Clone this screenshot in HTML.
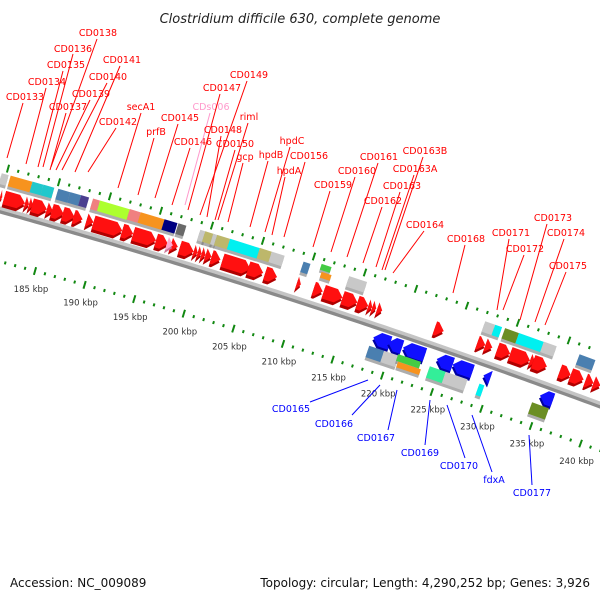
<!DOCTYPE html>
<html><head><meta charset="utf-8">
<style>
html,body{margin:0;padding:0;background:#fff;}
svg{display:block;font-family:"DejaVu Sans","Liberation Sans",sans-serif;}
</style></head>
<body>
<svg id="chart" width="600" height="600" viewBox="0 0 600 600" xmlns="http://www.w3.org/2000/svg">
<rect width="600" height="600" fill="#fff"/>
<text x="300" y="23" text-anchor="middle" font-size="13" font-style="italic" fill="#222">Clostridium difficile 630, complete genome</text>
<g id="rulers"></g>
<g id="backbone"></g>
<g id="features"></g>
<g id="labels" font-size="9.5" text-anchor="middle"></g>
<text x="10" y="587" font-size="12" fill="#111">Accession: NC_009089</text>
<text x="590" y="587" font-size="12" fill="#111" text-anchor="end">Topology: circular; Length: 4,290,252 bp; Genes: 3,926</text>
</svg>
<script>
// ---- data (kbp) ----
var fwdArrowStart=[181.9,182.3,184.4,184.8,185.1,186.6,187.1,188.2,189.3,190.6,191.3,194.2,195.3,197.6,199.1,200.0,201.4,201.8,202.2,202.6,203.2,204.3,206.9,208.6,211.8,213.5,214.5,216.4,217.9,219.0,219.4,219.9,225.7,230.0,230.8,232.0,233.3,235.3,235.6,238.3,239.4,240.9,241.7];
var fwdArrowEnd=[182.1,184.4,184.8,185.2,186.6,187.2,188.3,189.4,190.2,191.3,194.2,195.3,197.6,198.8,199.8,201.4,201.8,202.2,202.6,203.2,204.1,207.1,208.4,209.8,212.2,214.4,216.4,217.9,219.0,219.4,219.8,220.4,226.6,230.8,231.5,233.3,235.3,235.8,237.0,239.4,240.7,241.7,242.4];
var pinkArrow=[198.7,199.3];
var fwdBoxStart=[181.9,182.8,185.0,186.1,187.6,188.8,189.9,191.1,191.8,194.8,195.9,198.3,199.7,201.9,202.4,203.2,203.6,204.9,207.9,209.1,212.3,216.9,230.6,231.6,232.6,234.0,236.5,240.1];
var fwdBoxEnd=[182.6,185.0,186.1,187.2,188.8,189.9,190.7,191.8,194.8,195.9,198.3,199.6,200.5,202.6,203.4,203.7,204.9,207.9,209.1,210.4,213.0,218.7,231.6,232.3,234.0,236.5,237.8,241.7];
var fwdBoxColor=["#c8c8c8","#f7931e","#20c8cc","#20c8cc","#4a7fb0","#4a7fb0","#4b3f8f","#f08080","#adff2f","#f08080","#f7931e","#000080","#696969","#c8c8c8","#bdb76b","#c8c8c8","#bdb76b","#00f0f0","#bdb76b","#c8c8c8","#4a7fb0","#c8c8c8","#c8c8c8","#00f0f0","#6b8e23","#00f0f0","#c8c8c8","#4a7fb0"];
var stackedBoxes=[214.2,215.2];
var revArrowStart=[219.5,221.0,222.5,225.9,227.5,230.6,236.3];
var revArrowEnd=[221.2,222.4,224.7,227.5,229.5,231.3,237.6];
var revBoxStart=[218.9,220.4,221.9,225.0,226.6,230.0,235.3];
var revBoxEnd=[220.4,221.9,224.2,226.6,228.8,230.5,237.0];
var revBoxColor=["#4a7fb0","#c8c8c8","stack","#33ee99","#c8c8c8","#00f0f0","#6b8e23"];
var rulerStart=182, rulerEnd=242;
var kbpLabels=[185,190,195,200,205,210,215,220,225,230,235,240];

// ---- geometry ----
function B(x){return 209.5+0.28*x+7.5e-5*x*x;}
function ang(x){return Math.atan(0.28+1.5e-4*x)*180/Math.PI;}
function X(k){return (k-181.9)*9.92;}
function XL(k){return 35+(k-185)*9.92;}
function XU(k){return 8+(k-185)*10.2;}
var NS="http://www.w3.org/2000/svg";
function mk(tag,attrs,parent){var e=document.createElementNS(NS,tag);for(var a in attrs)e.setAttribute(a,attrs[a]);parent.appendChild(e);return e;}

// backbone
var bb=document.getElementById('backbone');
var d1="",d2="";
for(var x=-5;x<=605;x+=5){d1+=(x===-5?"M":"L")+x+","+(B(x)-1.2);d2+=(x===-5?"M":"L")+x+","+(B(x)+2);}
var p1=mk('path',{d:d2,stroke:"#8a8a8a","stroke-width":4,fill:"none"},bb);


var p2=mk('path',{d:d1,stroke:"#c4c4c4","stroke-width":3.5,fill:"none"},bb);



// rulers
var rg=document.getElementById('rulers');
for(var k=rulerStart;k<=rulerEnd;k++){
  var major=(k%5===0);
  var xl=XL(k);
  if(xl>-2&&xl<602){
    var yl=B(xl)+52-0.01*xl;
    var t=mk('rect',{x:-1,y:major?-4:-1.5,width:2,height:major?8:3,fill:"#118811",transform:"translate("+xl+","+yl+") rotate("+ang(xl)+")"},rg);
    
    
  }
  var xu=XU(k);
  if(xu>-2&&xu<602){
    var yu=B(xu)-43-0.017*xu;
    var u=mk('rect',{x:-1,y:major?-4:-1.5,width:2,height:major?8:3,fill:"#118811",transform:"translate("+xu+","+yu+") rotate("+ang(xu)+")"},rg);
    
    
  }
}
kbpLabels.forEach(function(k){
  var x=XL(k)-4;
  var tx=mk('text',{x:x,y:B(x)+52-0.01*x+22,"font-size":8.5,fill:"#333","text-anchor":"middle"},rg);
  tx.textContent=k+" kbp";
  
  
});

// features
var fg=document.getElementById('features');
function place(k0,dv){var x=X(k0);return "translate("+x+","+(B(x)+dv)+") rotate("+ang(x)+")";}
function lenOf(k0,k1){var x=X(k0);return (X(k1)-x)/Math.cos(ang(x)*Math.PI/180);}
function arrow(k0,k1,dv,col,dark,dir,name){
  var L=lenOf(k0,k1),h=14,hd=Math.min(7,L);
  var pts;
  if(dir>0) pts=[[0,-h/2],[L-hd,-h/2],[L,0],[L-hd,h/2],[0,h/2]];
  else pts=[[L,-h/2],[hd,-h/2],[0,0],[hd,h/2],[L,h/2]];
  var g=mk('g',{transform:place(k0,dv)},fg);
  
  
  mk('polygon',{points:pts.map(function(p){return p[0]+","+(p[1]+2);}).join(" "),fill:dark},g);
  mk('polygon',{points:pts.map(function(p){return p[0]+","+(p[1]-1);}).join(" "),fill:col},g);
}
function box(k0,k1,dv,col,h,name){
  var L=lenOf(k0,k1);
  var g=mk('g',{transform:place(k0,dv)},fg);
  
  
  mk('rect',{x:0,y:-h/2+2,width:L,height:h,fill:"#777",opacity:0.6},g);
  mk('rect',{x:0,y:-h/2-1,width:L,height:h,fill:col},g);
}
for(var i=0;i<fwdArrowStart.length;i++){
  var xm=X(fwdArrowStart[i]);
  arrow(fwdArrowStart[i],fwdArrowEnd[i],-12-0.01*xm,"#ff1010","#b00000",1,"forward-gene-arrow");
}
arrow(pinkArrow[0],pinkArrow[1],-12-0.01*X(pinkArrow[0]),"#ffaad0","#cc7799",1,"forward-gene-arrow-pink");
for(var i=0;i<fwdBoxStart.length;i++){
  var xm=X(fwdBoxStart[i]);
  box(fwdBoxStart[i],fwdBoxEnd[i],-30-0.01*xm,fwdBoxColor[i],11,"forward-feature-box");
}
var xs=X(stackedBoxes[0]);
box(stackedBoxes[0],stackedBoxes[1],-36-0.01*xs,"#44cc44",6,"forward-feature-box-green");
box(stackedBoxes[0],stackedBoxes[1],-28-0.01*xs,"#f7931e",6,"forward-feature-box-orange");
for(var i=0;i<revArrowStart.length;i++){
  arrow(revArrowStart[i],revArrowEnd[i],14,"#1010ff","#0000a0",-1,"reverse-gene-arrow");
}
for(var i=0;i<revBoxStart.length;i++){
  if(revBoxColor[i]==="stack"){
    box(revBoxStart[i],revBoxEnd[i],26,"#44cc44",7,"reverse-feature-box-green");
    box(revBoxStart[i],revBoxEnd[i],33,"#f7931e",6,"reverse-feature-box-orange");
  } else {
    box(revBoxStart[i],revBoxEnd[i],30,revBoxColor[i],12,"reverse-feature-box");
  }
}

// labels with leader lines
var L=[
["CD0133",25,100,23,103,7,158,"r"],["CD0134",47,85,46,88,26,164,"r"],["CD0135",66,68,63,71,38,167,"r"],
["CD0136",73,52,73,54,43,167,"r"],["CD0138",98,36,97,39,51,167,"r"],["CD0137",68,110,66,113,50,170,"r"],
["CD0141",122,63,120,66,75,172,"r"],["CD0140",108,80,107,83,62,170,"r"],["CD0139",91,97,90,100,56,170,"r"],
["CD0142",118,125,116,128,88,172,"r"],["secA1",141,110,141,113,118,188,"r"],["prfB",156,135,154,138,138,195,"r"],
["CD0145",180,121,178,124,155,198,"r"],["CD0146",193,145,190,148,172,205,"r"],["CDs006",211,110,210,113,185,205,"p"],
["CD0147",222,91,220,94,188,210,"r"],["CD0149",249,78,247,81,200,215,"r"],["riml",249,120,248,123,218,220,"r"],
["CD0148",223,133,221,136,207,217,"r"],["CD0150",235,147,235,150,215,220,"r"],["gcp",245,160,243,163,228,222,"r"],
["hpdB",271,158,268,161,250,227,"r"],["hpdC",292,144,290,147,265,232,"r"],["hpdA",289,174,285,177,272,235,"r"],
["CD0156",309,159,305,162,284,237,"r"],["CD0159",333,188,330,191,313,247,"r"],["CD0160",357,174,355,177,331,252,"r"],
["CD0161",379,160,378,163,347,257,"r"],["CD0162",383,204,382,207,363,263,"r"],["CD0163",402,189,400,192,376,267,"r"],
["CD0163A",415,172,414,175,382,270,"r"],["CD0163B",425,154,423,157,385,270,"r"],["CD0164",425,228,424,231,393,273,"r"],
["CD0168",466,242,465,245,453,293,"r"],["CD0171",511,236,509,239,497,310,"r"],["CD0172",525,252,524,255,503,310,"r"],
["CD0173",553,221,547,224,520,320,"r"],["CD0174",566,236,564,239,535,322,"r"],["CD0175",568,269,566,272,545,325,"r"],
["CD0165",291,412,310,402,368,380,"b"],["CD0166",334,427,352,415,380,385,"b"],["CD0167",376,441,388,430,397,390,"b"],
["CD0169",420,456,425,445,430,400,"b"],["CD0170",459,469,465,458,447,405,"b"],["fdxA",494,483,492,472,472,415,"b"],
["CD0177",532,496,532,485,529,435,"b"]
];
var lg=document.getElementById('labels');
L.forEach(function(r){
  var col=r[7]==="r"?"#ff0000":(r[7]==="p"?"#ff99cc":"#0000ff");
  var ln=mk('line',{x1:r[3],y1:r[4],x2:r[5],y2:r[6],stroke:col,"stroke-width":1},lg);
  
  
  var t=mk('text',{x:r[1],y:r[2],fill:col},lg);
  t.textContent=r[0];
  
  
});
</script>
</body></html>
